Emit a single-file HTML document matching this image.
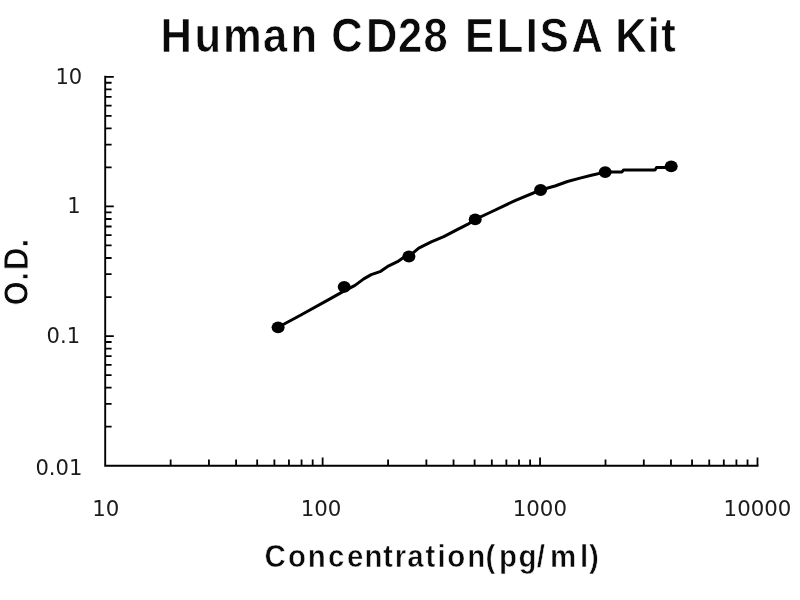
<!DOCTYPE html>
<html lang="en">
<head>
<meta charset="utf-8">
<title>Human CD28 ELISA Kit</title>
<style>
html,body{margin:0;padding:0;background:#fff;}
body{width:800px;height:600px;overflow:hidden;}
svg{display:block;}
.b{font-family:"Liberation Sans",Arial,Helvetica,sans-serif;font-weight:bold;fill:#0a0a0a;}
.t{font-family:"DejaVu Sans","Liberation Sans",Verdana,sans-serif;fill:#1c1c1c;}
</style>
</head>
<body>
<svg width="800" height="600" viewBox="0 0 800 600">
<rect x="0" y="0" width="800" height="600" fill="#ffffff"/>
<text class="b" transform="translate(0 52.4) scale(1 1.1)" x="160.4 194.6 223.1 263.1 290.4 317.0 331.2 365.9 398.0 423.5 447.7 465.1 496.7 525.7 539.8 571.5 602.9 615.2 647.7 661.2" y="0" font-size="43.5" stroke="#fff" stroke-width="0.6">Human CD28 ELISA Kit</text>
<text class="b" transform="translate(0 567.1) scale(1 1.09)" x="264.4 288.0 307.8 328.1 347.0 364.4 382.9 394.8 407.2 425.4 437.5 447.2 467.2 485.6 498.9 518.4 536.8 550.0 580.0 589.0" y="0" font-size="29.5" stroke="#fff" stroke-width="0.5">Concentration(pg/ml)</text>
<text class="b" transform="translate(28.4 0) rotate(-90) scale(1 1.11)" stroke="#fff" stroke-width="0.8" x="-305.4 -280.7 -270.2 -247.4" y="0" font-size="31.3">O.D.</text>
<path d="M105.20 75.81V466.70M104.20 465.70H758.49" stroke="#000" stroke-width="1.9" fill="none"/>
<path d="M105.20 426.68H111.60M105.20 403.85H111.60M105.20 387.65H111.60M105.20 375.09H111.60M105.20 364.83H111.60M105.20 356.15H111.60M105.20 348.63H111.60M105.20 342.00H111.60M105.20 336.07H113.80M105.20 297.05H111.60M105.20 274.22H111.60M105.20 258.02H111.60M105.20 245.46H111.60M105.20 235.20H111.60M105.20 226.52H111.60M105.20 219.00H111.60M105.20 212.37H111.60M105.20 206.44H113.80M105.20 167.42H111.60M105.20 144.59H111.60M105.20 128.39H111.60M105.20 115.83H111.60M105.20 105.57H111.60M105.20 96.89H111.60M105.20 89.37H111.60M105.20 82.74H111.60M105.20 76.81H113.8M170.65 465.70V459.6M208.94 465.70V459.6M236.11 465.70V459.6M257.18 465.70V459.6M274.39 465.70V459.6M288.95 465.70V459.6M301.56 465.70V459.6M312.68 465.70V459.6M322.63 465.70V457.6M388.08 465.70V459.6M426.37 465.70V459.6M453.54 465.70V459.6M474.61 465.70V459.6M491.82 465.70V459.6M506.38 465.70V459.6M518.99 465.70V459.6M530.11 465.70V459.6M540.06 465.70V457.6M605.51 465.70V459.6M643.80 465.70V459.6M670.97 465.70V459.6M692.04 465.70V459.6M709.25 465.70V459.6M723.81 465.70V459.6M736.42 465.70V459.6M747.54 465.70V459.6M757.49 465.70V457.6" stroke="#000" stroke-width="1.8" fill="none"/>
<text class="t" transform="translate(82.30 83.71) scale(1.03 1)" font-size="20.5" text-anchor="end">10</text>
<text class="t" transform="translate(80.70 213.34) scale(1.03 1)" font-size="20.5" text-anchor="end">1</text>
<text class="t" transform="translate(80.10 342.97) scale(1.03 1)" font-size="20.5" text-anchor="end">0.1</text>
<text class="t" transform="translate(82.40 475.00) scale(1.03 1)" font-size="20.5" text-anchor="end">0.01</text>
<text class="t" transform="translate(105.80 516) scale(1.04 1)" font-size="20.5" text-anchor="middle">10</text>
<text class="t" transform="translate(321.03 516) scale(1.04 1)" font-size="20.5" text-anchor="middle">100</text>
<text class="t" transform="translate(539.86 516) scale(1.04 1)" font-size="20.5" text-anchor="middle">1000</text>
<text class="t" transform="translate(757.49 516) scale(1.04 1)" font-size="20.5" text-anchor="middle">10000</text>
<polyline points="278.1,327.3 300,315.5 330,298.9 342.5,291.9 355,285.4 363.75,278.9 371.25,274.6 380,271.7 388.75,265.8 397.5,261.7 405,256.6 408.9,256.4 418.75,248.2 431.25,241.9 443.75,236.7 456.25,230.1 467.5,224.4 475.2,219.4 490,212.5 515,200.6 540.6,190 555,186.0 567.5,181.5 580,178.1 592.5,175 605.2,172.1 622,171.9 623.5,170 655,170 656.5,167.6 665,167.4 671.2,166.3" stroke="#000" stroke-width="3.0" fill="none" stroke-linejoin="round" stroke-linecap="round"/>
<ellipse cx="278.1" cy="327.3" rx="6.5" ry="5.9" fill="#000"/>
<ellipse cx="344.2" cy="286.8" rx="6.5" ry="5.9" fill="#000"/>
<ellipse cx="408.9" cy="256.5" rx="6.5" ry="5.9" fill="#000"/>
<ellipse cx="475.2" cy="219.4" rx="6.5" ry="5.9" fill="#000"/>
<ellipse cx="540.6" cy="190" rx="6.5" ry="5.9" fill="#000"/>
<ellipse cx="605.2" cy="172.1" rx="6.5" ry="5.9" fill="#000"/>
<ellipse cx="671.2" cy="166.3" rx="6.5" ry="5.9" fill="#000"/>
</svg>
</body>
</html>
